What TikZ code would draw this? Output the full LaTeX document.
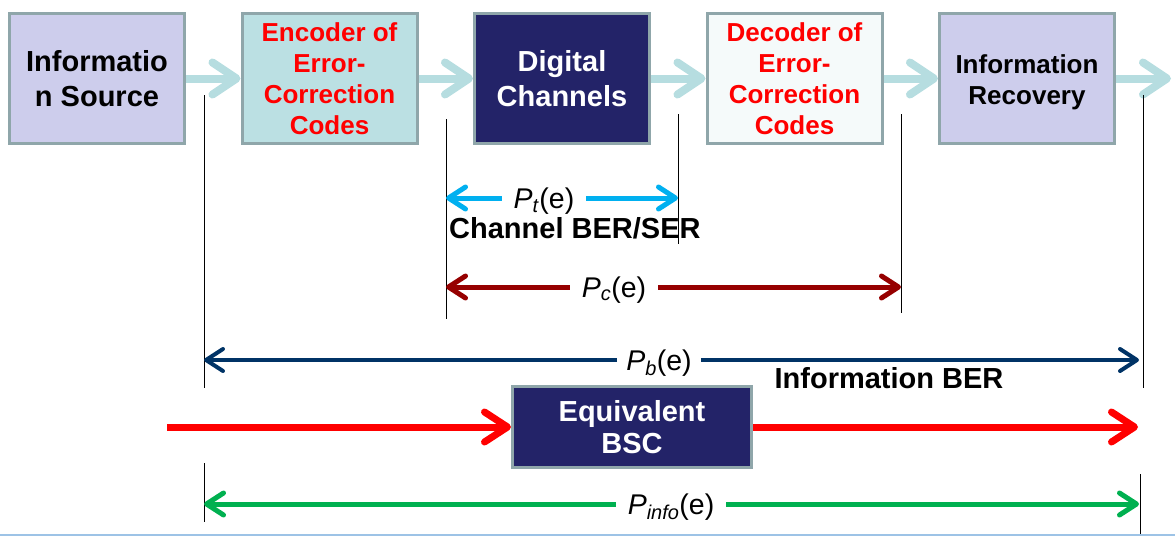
\documentclass[tikz,border=0pt]{standalone}
\usepackage{fontspec}
\setmainfont{Liberation Sans}
\usepackage{tikz}
\usetikzlibrary{arrows.meta,positioning}
\definecolor{boxedge}{RGB}{143,166,170}
\definecolor{srcfill}{RGB}{205,205,236}
\definecolor{encfill}{RGB}{187,224,227}
\definecolor{chanfill}{RGB}{35,35,104}
\definecolor{decfill}{RGB}{245,250,250}
\definecolor{flowcol}{RGB}{182,221,224}
\definecolor{ptcol}{RGB}{0,176,240}
\definecolor{pccol}{RGB}{150,0,0}
\definecolor{pbcol}{RGB}{0,51,102}
\definecolor{infocol}{RGB}{0,176,80}
\definecolor{edgeline}{RGB}{157,195,230}
\tikzset{
  block/.style={draw=boxedge,line width=3pt,minimum width=175pt,
    minimum height=130pt,align=center,inner sep=0pt},
  bigtxt/.style={font=\fontsize{29}{35}\selectfont\bfseries},
  smalltxt/.style={font=\fontsize{26}{31}\selectfont\bfseries},
  flow/.style={line width=8pt,color=flowcol,
    -{Straight Barb[length=24pt,width=32pt,round]}},
  dimarrow/.style={line width=5pt,-{Straight Barb[length=17pt,width=22pt,round]}},
  redarrow/.style={line width=7pt,red,-{Straight Barb[length=23pt,width=30pt,round]}},
  guide/.style={line width=1pt,black},
  lbl/.style={font=\fontsize{28.5}{30}\selectfont,inner xsep=12pt,inner ysep=0pt,anchor=base}
}

\begin{document}
\begin{tikzpicture}[x=1pt,y=-1pt,node distance=54.5pt]
  \useasboundingbox (0,0) rectangle (1175,536);

  % --- Blocks ---
  \node[block,fill=srcfill,bigtxt] (src) at (97,78.5) {Informatio\\n Source};
  \node[block,fill=encfill,smalltxt,text=red,right=of src] (enc)
    {Encoder of\\Error-\\Correction\\Codes};
  \node[block,fill=chanfill,bigtxt,text=white,right=of enc] (chan)
    {Digital\\Channels};
  \node[block,fill=decfill,smalltxt,text=red,right=of chan] (dec)
    {Decoder of\\Error-\\Correction\\Codes};
  \node[block,fill=srcfill,smalltxt,right=of dec,text height=57pt] (rec)
    {Information\\Recovery};
  \coordinate[right=55pt of rec.east] (out);

  % --- Flow arrows ---
  \draw[flow] (src) -- (enc);
  \draw[flow] (enc) -- (chan);
  \draw[flow] (chan) -- (dec);
  \draw[flow] (dec) -- (rec);
  \draw[flow] (rec) -- (out);

  % --- Guide lines ---
  \coordinate (a1) at (204,95);   \coordinate (a2) at (204,388);
  \coordinate (a3) at (204,463);  \coordinate (a4) at (204,522);
  \coordinate (b1) at (446,119);  \coordinate (b2) at (446,319);
  \coordinate (c1) at (678,114);  \coordinate (c2) at (678,244);
  \coordinate (d1) at (901,114);  \coordinate (d2) at (901,313);
  \coordinate (e1) at (1143,95);  \coordinate (e2) at (1143,388);
  \coordinate (e3) at (1140,474); \coordinate (e4) at (1140,536);
  \draw[guide] (a1) -- (a2);
  \draw[guide] (a3) -- (a4);
  \draw[guide] (b1) -- (b2);
  \draw[guide] (c1) -- (c2);
  \draw[guide] (d1) -- (d2);
  \draw[guide] (e1) -- (e2);
  \draw[guide] (e3) -- (e4);

  % --- Error probabilities ---
  \coordinate (t1) at (446,198);  \coordinate (t2) at (678,198);
  \node[lbl] (pt) at (544,208) {\textit{P}\textsubscript{\textit{t}}(e)};
  \draw[dimarrow,ptcol] (pt.west |- t1) -- (t1);
  \draw[dimarrow,ptcol] (pt.east |- t2) -- (t2);
  \node[bigtxt,inner sep=0pt,anchor=west] (chber) at (449,228) {Channel BER/SER};

  \coordinate (c3) at (446,287);  \coordinate (c4) at (901,287);
  \node[lbl] (pc) at (614,297) {\textit{P}\textsubscript{\textit{c}}(e)};
  \draw[dimarrow,pccol] (pc.west |- c3) -- (c3);
  \draw[dimarrow,pccol] (pc.east |- c4) -- (c4);

  \coordinate (p1) at (204,360);  \coordinate (p2) at (1139,360);
  \node[lbl,inner xsep=9pt] (pb) at (659,370) {\textit{P}\textsubscript{\textit{b}}(e)};
  \draw[dimarrow,line width=4pt,pbcol] (pb.west |- p1) -- (p1);
  \draw[dimarrow,line width=4pt,pbcol] (pb.east |- p2) -- (p2);
  \node[bigtxt] (infober) at (889,378) {Information BER};

  % --- Equivalent channel ---
  \node[block,fill=chanfill,text=white,bigtxt,minimum width=239pt,
    minimum height=81pt,font=\fontsize{29}{32}\selectfont\bfseries] (bsc)
    at (632,427) {Equivalent\\BSC};
  \coordinate (rin) at (167,427);  \coordinate (rout) at (1138,427);
  \draw[redarrow] (rin) -- (bsc);
  \draw[redarrow] (bsc) -- (rout);

  \coordinate (g1) at (204,504);  \coordinate (g2) at (1139,504);
  \node[lbl] (pinfo) at (671,514) {\textit{P}\textsubscript{\textit{info}}(e)};
  \draw[dimarrow,infocol] (pinfo.west |- g1) -- (g1);
  \draw[dimarrow,infocol] (pinfo.east |- g2) -- (g2);

  % --- Bottom edge ---
  \draw[edgeline,line width=1.5pt] (0,535) -- (1175,535);
\end{tikzpicture}
\end{document}
